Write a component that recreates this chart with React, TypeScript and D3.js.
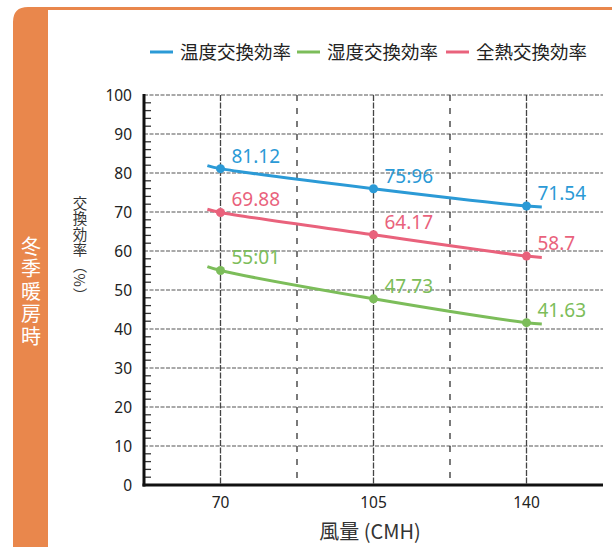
import React from "react";
import * as d3 from "d3";

const airflow = [70, 105, 140];
const xTicks = [70, 105, 140];
const xMidLines = [87.5, 122.5];
const yTicks = [0, 10, 20, 30, 40, 50, 60, 70, 80, 90, 100];
const tempEff = [81.12, 75.96, 71.54];
const humEff = [55.01, 47.73, 41.63];
const totalEff = [69.88, 64.17, 58.7];
const tempLabels = ["81.12", "75:96", "71.54"];
const humLabels = ["55:01", "47.73", "41.63"];
const totalLabels = ["69.88", "64.17", "58.7"];
const extX = [67, 143.5];
const tempExt = [81.9, 71.3];
const humExt = [56.0, 41.3];
const totalExt = [70.7, 58.35];
const legendNames = ["温度交換効率", "湿度交換効率", "全熱交換効率"];
const sideLabel = "冬季暖房時";
const yTitle = "交換効率（%）";

const W = 612, H = 547;
const left = 144, right = 603, top = 95, bottom = 485;
const FONT = "'Noto Sans', 'Noto Sans CJK JP', sans-serif";
const CJK = "'Noto Sans CJK JP', 'Noto Sans', sans-serif";

const BLUE = "#2b9ad6";
const GREEN = "#7cbd5a";
const PINK = "#e9627c";
const ORANGE = "#e9874c";

export default function App() {
  const x = d3.scaleLinear().domain([52.5, 157.5]).range([left, right]);
  const y = d3.scaleLinear().domain([0, 100]).range([bottom, top]);
  const line = d3
    .line<[number, number]>()
    .x((d) => x(d[0]))
    .y((d) => y(d[1]))
    .curve(d3.curveCatmullRom.alpha(0.5));

  const series = [
    { vals: tempEff, ext: tempExt, labels: tempLabels, color: BLUE },
    { vals: totalEff, ext: totalExt, labels: totalLabels, color: PINK },
    { vals: humEff, ext: humExt, labels: humLabels, color: GREEN },
  ];
  const minor = d3.range(0, 100, 2).filter((v) => v % 10 !== 0);

  const legend = [
    { name: legendNames[0], color: BLUE, x0: 150 },
    { name: legendNames[1], color: GREEN, x0: 297 },
    { name: legendNames[2], color: PINK, x0: 446 },
  ];

  return (
    <svg
      width={W}
      height={H}
      style={{ position: "absolute", left: 0, top: 0, background: "#fff" }}
    >
      {/* orange frame */}
      <path
        d={`M13,${H} L13,22 Q13,7 28,7 L${W},7 L${W},10 L48,10 L48,${H} Z`}
        fill={ORANGE}
      />
      <text
        x={31}
        y={236}
        fill="#fff"
        fontSize={20}
        fontFamily={CJK}
        letterSpacing={2.5}
        style={{ writingMode: "vertical-rl" as any }}
      >
        {sideLabel}
      </text>

      {/* legend */}
      {legend.map((l) => (
        <g key={l.name}>
          <line x1={l.x0} x2={l.x0 + 23} y1={52} y2={52} stroke={l.color} strokeWidth={3} />
          <text x={l.x0 + 30} y={58.5} fontSize={18.5} fontFamily={CJK} fill="#222">
            {l.name}
          </text>
        </g>
      ))}

      {/* horizontal grid */}
      {yTicks.filter((v) => v > 0).map((v) => (
        <line
          key={v}
          x1={left}
          x2={right}
          y1={y(v)}
          y2={y(v)}
          stroke="#555"
          strokeWidth={1.2}
          strokeDasharray="4,1.5"
        />
      ))}
      {/* vertical grid */}
      {xTicks.map((v) => (
        <line
          key={v}
          x1={x(v)}
          x2={x(v)}
          y1={top}
          y2={bottom}
          stroke="#444"
          strokeWidth={1.3}
          strokeDasharray="6,1.5"
        />
      ))}
      {xMidLines.map((v) => (
        <line
          key={v}
          x1={x(v)}
          x2={x(v)}
          y1={top}
          y2={bottom}
          stroke="#333"
          strokeWidth={1.3}
          strokeDasharray="6,7"
        />
      ))}
      {/* minor ticks */}
      {minor.map((v) => (
        <line key={v} x1={left} x2={left + 7} y1={y(v)} y2={y(v)} stroke="#333" strokeWidth={1.3} />
      ))}
      {/* axes */}
      <line x1={left} x2={left} y1={top - 1} y2={bottom + 1.5} stroke="#111" strokeWidth={3} />
      <line x1={left - 1.5} x2={right} y1={bottom} y2={bottom} stroke="#111" strokeWidth={3} />

      {/* y tick labels */}
      {yTicks.map((v) => (
        <text
          key={v}
          x={132}
          y={y(v) + 5.5}
          textAnchor="end"
          fontSize={15.5}
          fontFamily={FONT}
          fill="#222"
        >
          {v}
        </text>
      ))}
      {/* x tick labels */}
      {xTicks.map((v) => (
        <text
          key={v}
          x={x(v)}
          y={508}
          textAnchor="middle"
          fontSize={15.5}
          fontFamily={FONT}
          fill="#222"
        >
          {v}
        </text>
      ))}
      <text x={370} y={539} textAnchor="middle" fontSize={20} fontFamily={CJK} fill="#333">
        風量 (CMH)
      </text>
      <text
        x={80}
        y={196}
        fontSize={14.5}
        fontFamily={CJK}
        fill="#333"
        letterSpacing={1}
        style={{ writingMode: "vertical-rl" as any }}
      >
        {yTitle}
      </text>

      {/* series */}
      {series.map((s, i) => {
        const pts: [number, number][] = [
          [extX[0], s.ext[0]],
          ...airflow.map((a, j) => [a, s.vals[j]] as [number, number]),
          [extX[1], s.ext[1]],
        ];
        return (
          <g key={i}>
            <path d={line(pts) || ""} fill="none" stroke={s.color} strokeWidth={3} />
            {airflow.map((a, j) => (
              <circle key={j} cx={x(a)} cy={y(s.vals[j])} r={4.5} fill={s.color} />
            ))}
            {airflow.map((a, j) => (
              <text
                key={"t" + j}
                x={x(a) + 11}
                y={y(s.vals[j]) - 6}
                fontSize={19}
                fontFamily={FONT}
                fill={s.color}
              >
                {s.labels[j]}
              </text>
            ))}
          </g>
        );
      })}
    </svg>
  );
}
